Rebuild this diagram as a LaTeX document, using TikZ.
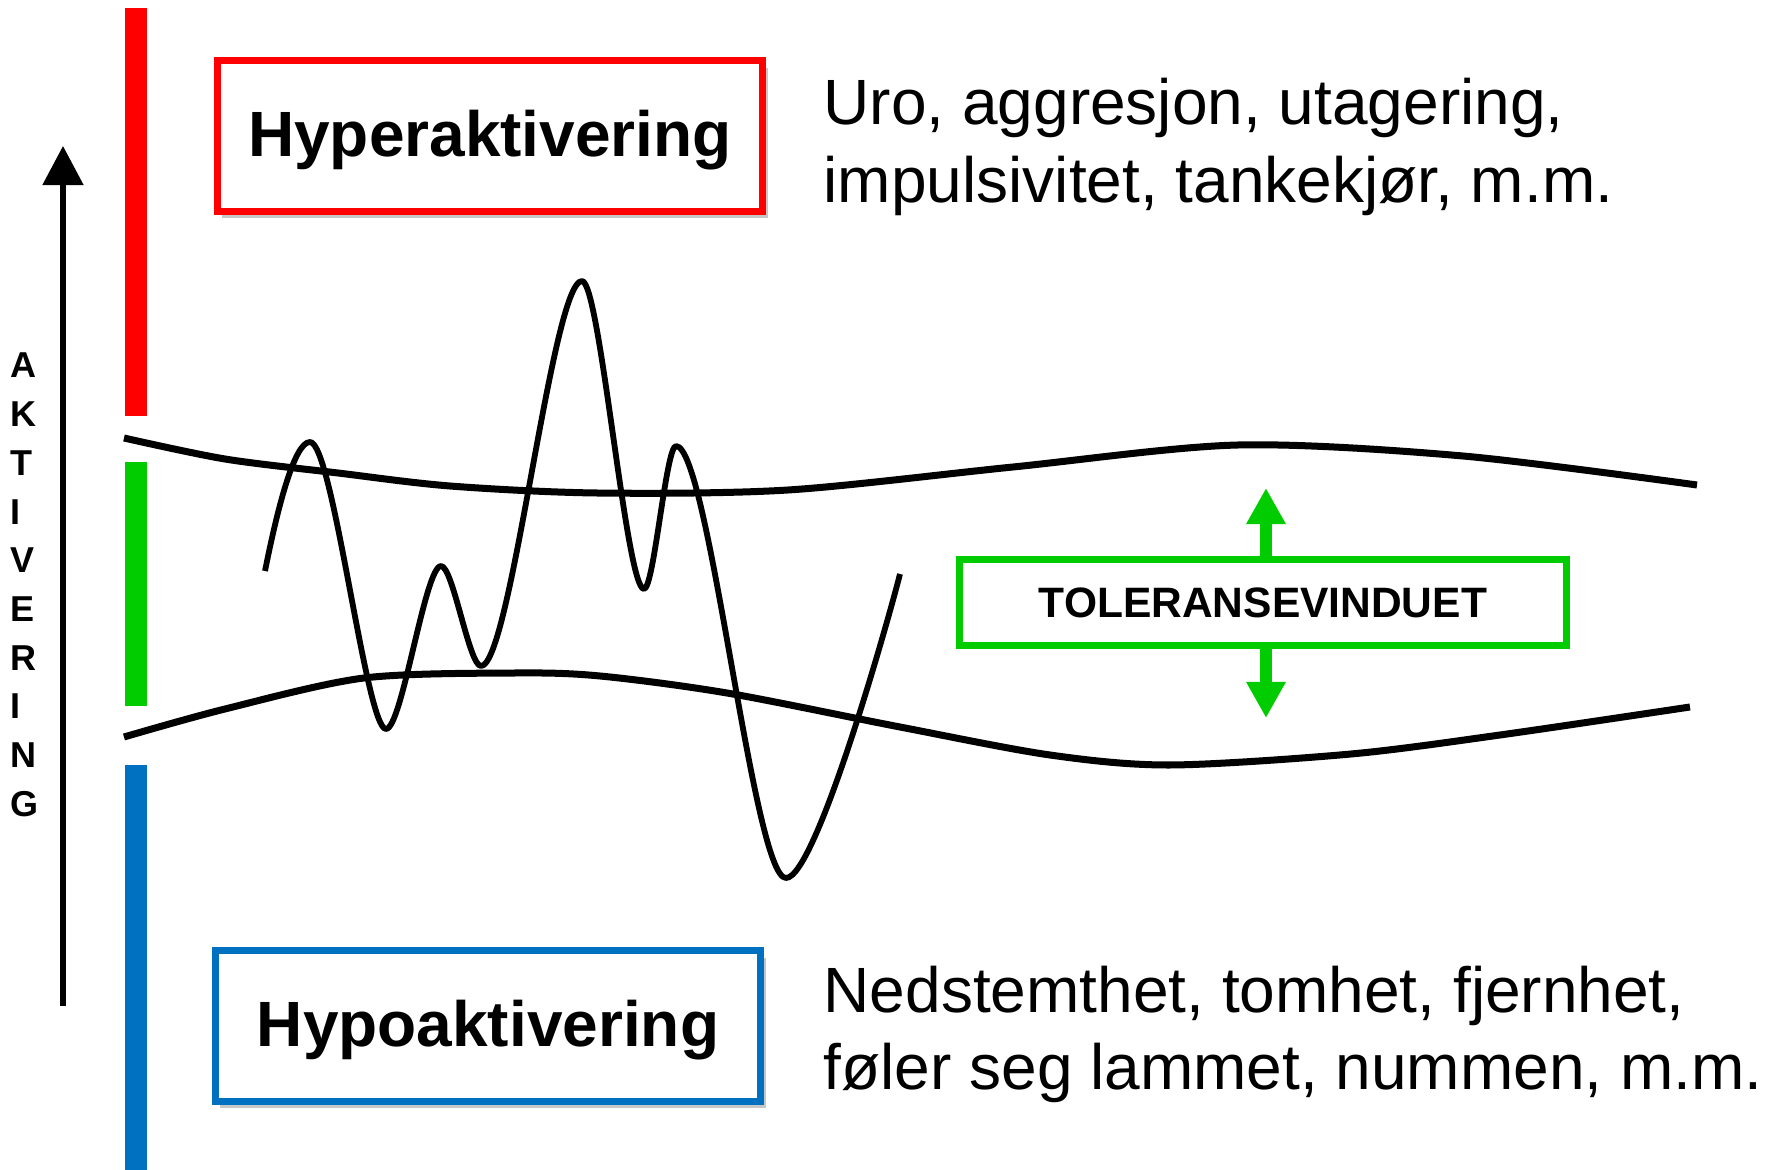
\documentclass[tikz,border=0pt]{standalone}
\usepackage{fontspec}
\setmainfont{Liberation Sans}
\usetikzlibrary{arrows.meta,shadows}
\definecolor{hyperred}{HTML}{FF0000}
\definecolor{tolgreen}{HTML}{00CC00}
\definecolor{hypoblue}{HTML}{0070C0}
\begin{document}
\begin{tikzpicture}[x=0.01cm,y=-0.01cm,
  levelbar/.style={line width=0.22cm},
  statebox/.style={draw, line width=0.07cm, fill=white, minimum width=5.45cm,
    minimum height=1.5cm, inner sep=0pt, text height=0.48cm, text depth=0.064cm,
    font=\fontsize{18.2pt}{22pt}\selectfont\bfseries,
    drop shadow={shadow xshift=0.05cm, shadow yshift=-0.07cm, fill=black, opacity=0.22}},
  desc/.style={anchor=base west, inner sep=0pt, font=\fontsize{18.2pt}{21pt}\selectfont},
  boundary/.style={line width=0.07cm, line cap=butt},
  wave/.style={line width=0.058cm, line join=round},
  axisletter/.style={anchor=base west, inner sep=0pt, font=\fontsize{10.24pt}{12pt}\selectfont\bfseries},
  growarrow/.style={tolgreen, line width=0.12cm, -{Triangle[length=0.36cm,width=0.37cm]}},
  tolbox/.style={draw=tolgreen, line width=0.07cm, fill=white, minimum width=6.06cm,
    minimum height=0.85cm, inner sep=0pt, font=\fontsize{12.09pt}{14pt}\selectfont\bfseries}
]
\useasboundingbox (0,0) rectangle (1765,1170);

% level bars
\draw[levelbar, hyperred] (136,8) -- (136,416);
\draw[levelbar, tolgreen] (136,462) -- (136,706);
\draw[levelbar, hypoblue] (136,765) -- (136,1170);

% vertical axis arrow
\coordinate (axisbot) at (63,1006);
\coordinate (axistop) at (63,146);
\draw[line width=0.05cm, -{Triangle[length=0.39cm,width=0.40cm]}] (axisbot) -- (axistop);

% axis letters
\foreach \ch [count=\i from 0] in {A,K,T,I,V,E,R,I,N,G}{
  \node[axisletter] (letter\i) at (10,{378+48.7*\i}) {\ch};
}

% window boundaries
\draw[boundary] plot[smooth] coordinates {(124,438) (225,459) (338,473) (450,486) (597,493) (788,490) (1013,467) (1238,445) (1463,456) (1697,485)};
\draw[boundary] plot[smooth] coordinates {(124,737) (225,709) (364,678) (515,673) (600,676) (727,693) (900,727) (1050,755) (1170,765) (1351,754) (1500,735) (1690,707)};

% activation wave
\draw[wave] (265,571) .. controls +(12,-60) and +(-16,0) .. (310,442)
  .. controls +(23,0) and +(-20,0) .. (386,729)
  .. controls +(16,0) and +(-16,0) .. (441,566)
  .. controls +(12,0) and +(-12,0) .. (481,666)
  .. controls +(30,0) and +(-30,0) .. (582,281)
  .. controls +(18,0) and +(-18,0) .. (644,589)
  .. controls +(10,0) and +(-10,0) .. (676,446)
  .. controls +(33,0) and +(-33,0) .. (786,878)
  .. controls +(30,0) and +(-10,40) .. (900,574);

% state boxes
\node[statebox, draw=hyperred] (hyper) at (490,136) {Hyperaktivering};
\node[statebox, draw=hypoblue] (hypo) at (488,1026) {Hypoaktivering};

% descriptions
\node[desc] (hyperdescA) at (823,125) {Uro, aggresjon, utagering,};
\node[desc] (hyperdescB) at (823,203) {impulsivitet, tankekjør, m.m.};
\node[desc] (hypodescA) at (823,1013) {Nedstemthet, tomhet, fjernhet,};
\node[desc] (hypodescB) at (823,1090) {føler seg lammet, nummen, m.m.};

% tolerance window
\node[tolbox] (tol) at (1263,602.5) {TOLERANSEVINDUET};
\coordinate (tolup) at (1266,488);
\coordinate (toldown) at (1266,718);
\draw[growarrow] (tol.north -| tolup) -- (tolup);
\draw[growarrow] (tol.south -| toldown) -- (toldown);
\end{tikzpicture}
\end{document}
